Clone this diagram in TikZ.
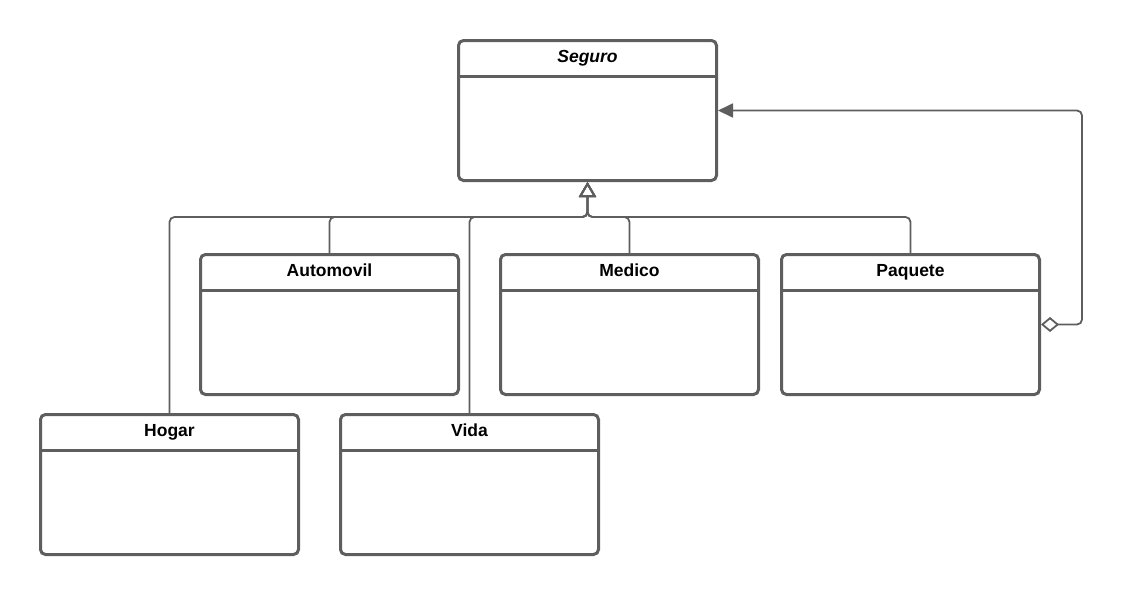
\documentclass[tikz,border=0pt]{standalone}
\usepackage{fontspec}
\setmainfont{Liberation Sans}
\usetikzlibrary{arrows.meta}
\definecolor{umlgray}{HTML}{5E5E5E}
\tikzstyle{classbox} = [draw=umlgray, line width=3pt, rounded corners=5pt, minimum width=258pt, minimum height=140pt, fill=white]
\tikzstyle{classname} = [font=\fontsize{17.5}{20}\selectfont\bfseries, text=black, inner sep=0pt, text height=12.6pt, text depth=3.7pt]
\tikzstyle{divider} = [draw=umlgray, line width=3pt]
\tikzstyle{inherit} = [draw=umlgray, line width=1.8pt, rounded corners=5pt, -{Triangle[open, length=15pt, width=17pt]}]
\tikzstyle{aggregation} = [draw=umlgray, line width=1.8pt, rounded corners=5pt, {Diamond[open, length=18pt, width=15pt]}-{Triangle[length=15pt, width=14pt]}]

\begin{document}
\begin{tikzpicture}[x=1pt, y=-1pt]
        \useasboundingbox (0,0) rectangle (1122,595);
        %Classes
        \node [classbox] (seguro) at (587.5,110.5) {};
        \node [classbox] (automovil) at (329.5,324.5) {};
        \node [classbox] (medico) at (629.5,324.5) {};
        \node [classbox] (paquete) at (910.5,324.5) {};
        \node [classbox] (hogar) at (169.5,484.5) {};
        \node [classbox] (vida) at (469.5,484.5) {};
        %Names
        \node [classname] (seguro-name) at ([yshift=-19.5pt]seguro.north) {\itshape Seguro};
        \node [classname] (automovil-name) at ([yshift=-19.5pt]automovil.north) {Automovil};
        \node [classname] (medico-name) at ([yshift=-19.5pt]medico.north) {Medico};
        \node [classname] (paquete-name) at ([yshift=-19.5pt]paquete.north) {Paquete};
        \node [classname] (hogar-name) at ([yshift=-19.5pt]hogar.north) {Hogar};
        \node [classname] (vida-name) at ([yshift=-19.5pt]vida.north) {Vida};
        %Dividers
        \draw [divider] ([yshift=-37pt]seguro.north west) -- ([yshift=-37pt]seguro.north east);
        \draw [divider] ([yshift=-37pt]automovil.north west) -- ([yshift=-37pt]automovil.north east);
        \draw [divider] ([yshift=-37pt]medico.north west) -- ([yshift=-37pt]medico.north east);
        \draw [divider] ([yshift=-37pt]paquete.north west) -- ([yshift=-37pt]paquete.north east);
        \draw [divider] ([yshift=-37pt]hogar.north west) -- ([yshift=-37pt]hogar.north east);
        \draw [divider] ([yshift=-37pt]vida.north west) -- ([yshift=-37pt]vida.north east);
        %Arrows
        \coordinate (join) at (587.5,217);
        \draw [inherit] (hogar.north) |- (join) -- (seguro.south);
        \draw [inherit] (automovil.north) |- (join) -- (seguro.south);
        \draw [inherit] (vida.north) |- (join) -- (seguro.south);
        \draw [inherit] (medico.north) |- (join) -- (seguro.south);
        \draw [inherit] (paquete.north) |- (join) -- (seguro.south);
        \coordinate (bend) at (1082,110.5);
        \draw [aggregation] (paquete.east) -| (bend) -- (seguro.east);
    \end{tikzpicture}
\end{document}
